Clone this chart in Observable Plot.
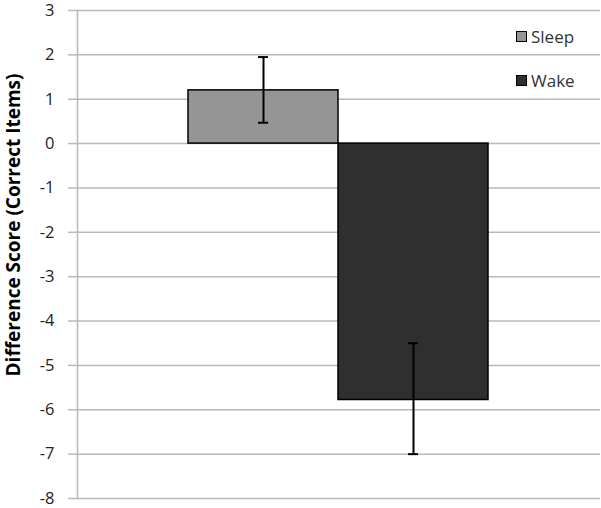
<!DOCTYPE html>
<html><head><meta charset="utf-8">
<script src="https://cdn.jsdelivr.net/npm/d3@7"></script>
<script src="https://cdn.jsdelivr.net/npm/@observablehq/plot@0.6"></script>
<style>
body{margin:0;background:#fff;}
#wrap{position:relative;width:601px;height:508px;font-family:"Open Sans",sans-serif;}
#wrap svg{position:absolute;left:0;top:0;}
#ylab{position:absolute;z-index:2;left:12.5px;top:225px;transform:translate(-50%,-50%) rotate(-90deg);white-space:nowrap;font-weight:bold;font-size:19px;color:#000;line-height:1;}
.leg{position:absolute;z-index:2;left:516px;font-size:17px;color:#333;display:flex;align-items:center;line-height:1;}
.sw{width:9px;height:9px;border:1px solid #000;margin-right:4px;}
</style>
</head><body><div id="wrap"><div id="ylab">Difference Score (Correct Items)</div></div>
<script>
const conditions = ["Sleep", "Wake"];
const means = [1.2, -5.78];
const errLow = [0.47, -7.0];
const errHigh = [1.95, -4.5];
const colors = ["#959595", "#2f2f2f"];
const yTicks = [-8, -7, -6, -5, -4, -3, -2, -1, 0, 1, 2, 3];

const data = conditions.map((c, i) => ({c, m: means[i], lo: errLow[i], hi: errHigh[i]}));

const chart = Plot.plot({
  width: 601, height: 508,
  marginLeft: 77, marginRight: 1, marginTop: 10, marginBottom: 10,
  style: {fontFamily: "'Open Sans', sans-serif", fontSize: "16.5px", background: "#fff", color: "#222", overflow: "visible"},
  x: {domain: conditions, range: [188.3, 488.3], padding: 0, axis: null},
  y: {domain: [-8, 3], ticks: yTicks, axis: null},
  color: {domain: conditions, range: colors},
  marks: [
    Plot.ruleY(yTicks, {stroke: "#b9b9b9", strokeWidth: 1.5}),
    Plot.axisY({ticks: yTicks, tickSize: 9, tickPadding: 14, stroke: "#b9b9b9", strokeWidth: 1.5, label: null, fontSize: 16.5, tickFormat: d => String(d).replace("\u2212", "-")}),
    Plot.frame({anchor: "left", stroke: "#b9b9b9", strokeWidth: 1.5}),
    Plot.barY(data, {x: "c", y: "m", fill: "c", stroke: "#000", strokeWidth: 1.5}),
    Plot.ruleX(data, {x: "c", y1: "lo", y2: "hi", stroke: "#000", strokeWidth: 2}),
    Plot.tickY(data, {x: "c", y: "lo", stroke: "#000", strokeWidth: 2, inset: 70}),
    Plot.tickY(data, {x: "c", y: "hi", stroke: "#000", strokeWidth: 2, inset: 70})
  ]
});
const wrap = document.getElementById("wrap");
wrap.appendChild(chart);
conditions.forEach((c, i) => {
  const d = document.createElement("div");
  d.className = "leg";
  d.style.top = (28 + i * 44) + "px";
  d.innerHTML = `<div class="sw" style="background:${colors[i]}"></div><span>${c}</span>`;
  wrap.appendChild(d);
});
</script></body></html>
